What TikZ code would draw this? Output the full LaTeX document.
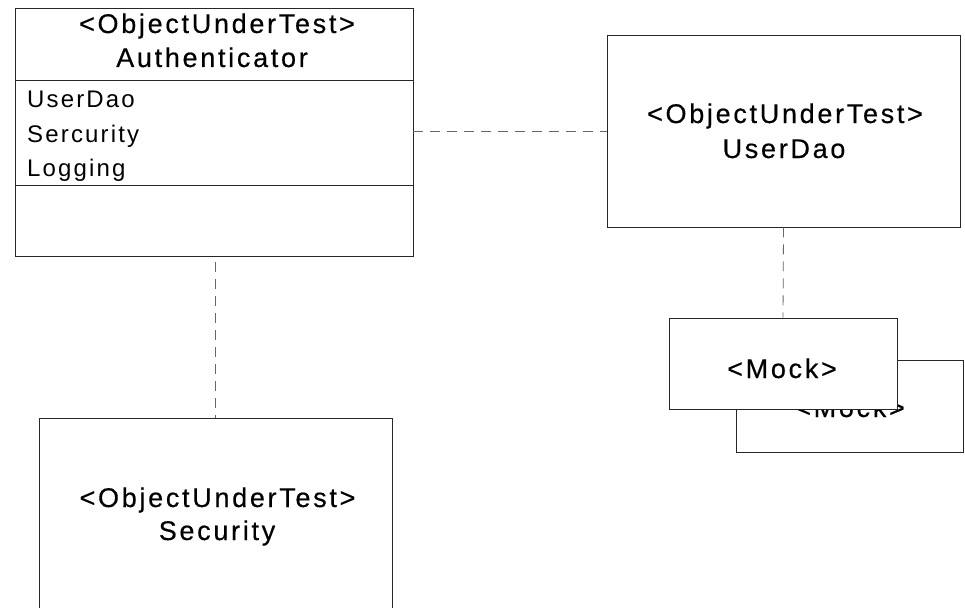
\documentclass[tikz,border=0pt]{standalone}
\usepackage{fontspec}
\setmainfont{Liberation Sans}
\newfontfamily\boxfont[LetterSpace=10,FakeBold=0.4]{Liberation Sans}
\newfontfamily\attrfont[LetterSpace=9]{Liberation Sans}
\begin{document}
\begin{tikzpicture}[x=1pt,y=-1pt,
  umlbox/.style={draw=black!85, line width=0.8pt, fill=white, inner sep=0pt, rectangle},
  title/.style={anchor=base, font=\boxfont\fontsize{27}{32}\selectfont, inner sep=0pt},
  attr/.style={anchor=base west, font=\attrfont\fontsize{24}{28}\selectfont, inner sep=0pt},
  link/.style={draw=black!60, line width=0.8pt, dash pattern=on 10pt off 7pt}]
\clip (0,0) rectangle (965,607);
\fill[white] (0,0) rectangle (965,607);

% Authenticator class with three compartments
\node[umlbox, minimum width=398pt, minimum height=248pt] (auth) at (214,132) {};
\draw[black!85, line width=0.8pt] (15,80) -- (413,80);
\draw[black!85, line width=0.8pt] (15,185) -- (413,185);
\node[title] (authst) at (217,33) {<ObjectUnderTest>};
\node[title] (authname) at (212,67) {Authenticator};
\node[attr] (a1) at (27,107) {UserDao};
\node[attr] (a2) at (27,142) {Sercurity};
\node[attr] (a3) at (27,176) {Logging};

% UserDao
\node[umlbox, minimum width=353pt, minimum height=192pt] (userdao) at (783.5,131) {};
\node[title] (userdaost) at (785,123) {<ObjectUnderTest>};
\node[title] (userdaoname) at (784,158) {UserDao};

% Mocks (back one first)
\node[umlbox, minimum width=227pt, minimum height=92pt] (mockback) at (849.5,406) {};
\node[title] (mockbackname) at (850,417) {<Mock>};
\node[umlbox, minimum width=228pt, minimum height=91pt] (mock) at (783,363.5) {};
\node[title] (mockname) at (782,378) {<Mock>};

% Security
\node[umlbox, minimum width=353pt, minimum height=220pt] (security) at (215.5,528) {};
\node[title] (securityst) at (217.5,507) {<ObjectUnderTest>};
\node[title] (securityname) at (217,540) {Security};

% Dependencies
\coordinate (authbelow) at (215.5,262);
\draw[link] (auth.east |- userdao.west) -- (userdao.west);
\draw[link] (userdao.south) -- (mock.north);
\draw[link] (authbelow) -- (security.north);
\end{tikzpicture}
\end{document}
